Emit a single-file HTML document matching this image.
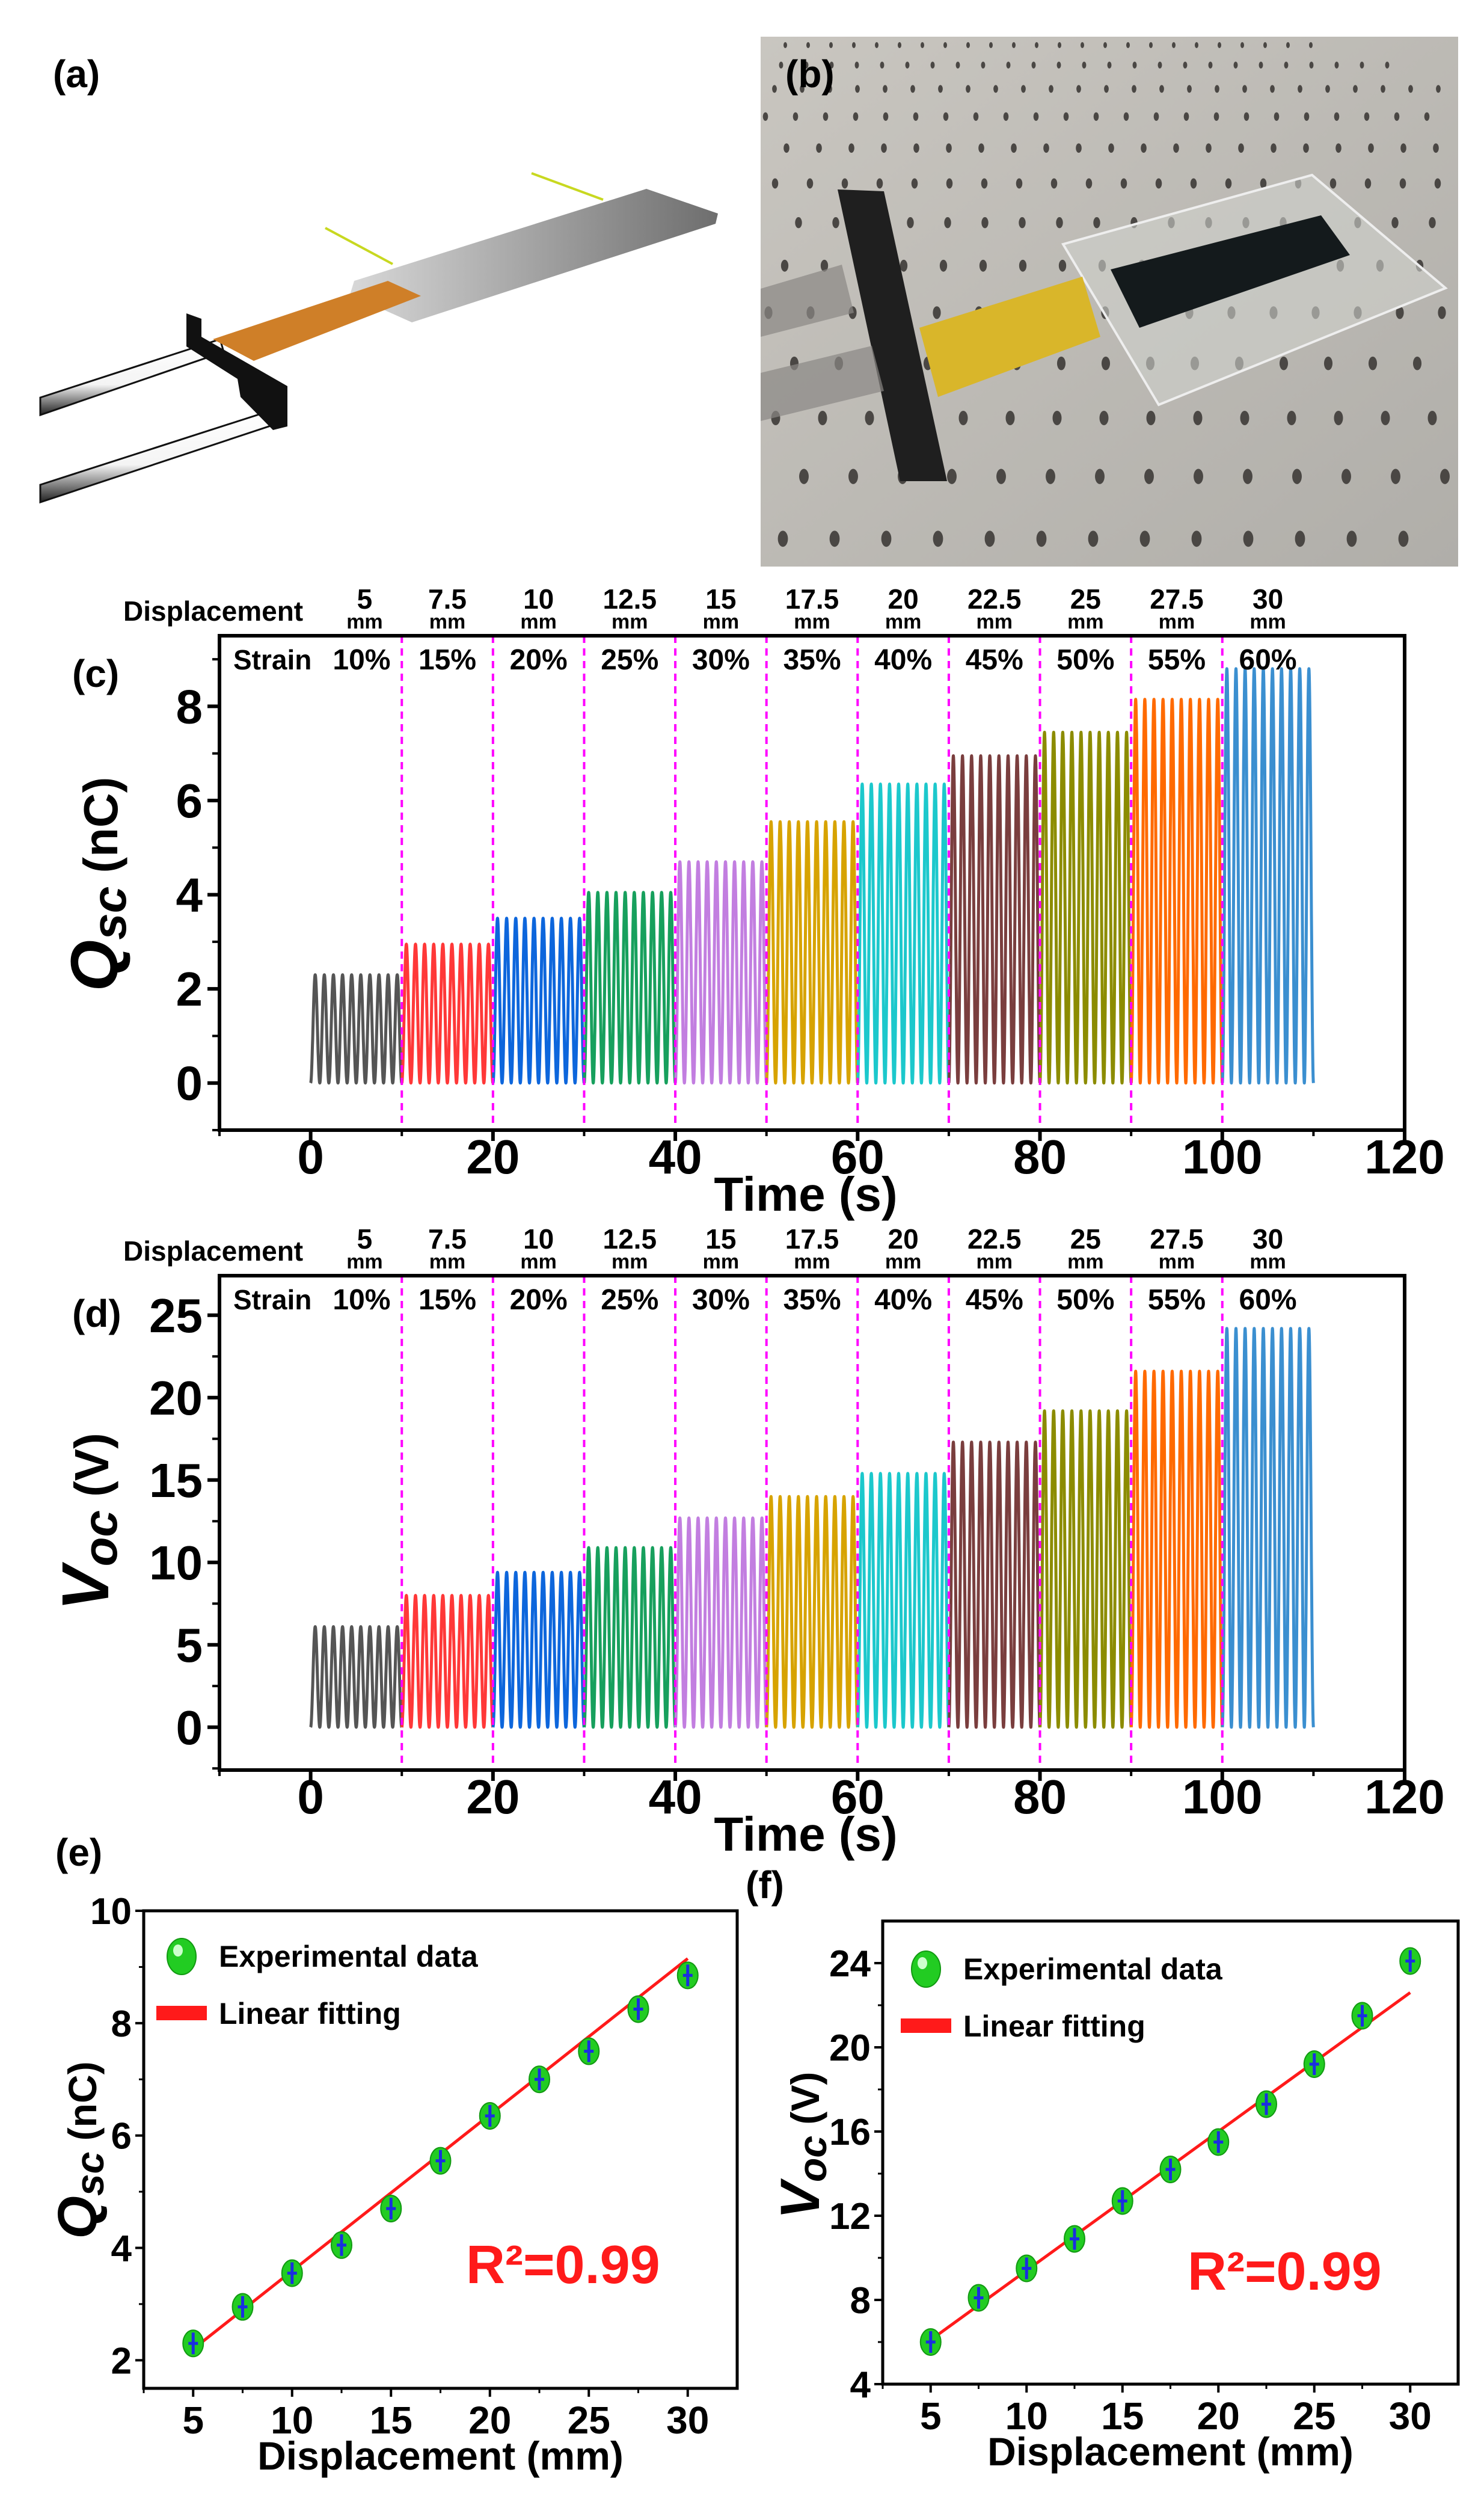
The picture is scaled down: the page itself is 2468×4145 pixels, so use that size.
<!DOCTYPE html>
<html><head><meta charset="utf-8"><style>
html,body{margin:0;padding:0;background:#fff;}
svg{display:block;}
.lab{font-family:"Liberation Sans",sans-serif;font-weight:bold;}
.tk{font-family:"Liberation Sans",sans-serif;font-weight:bold;}
.nar{font-family:"Liberation Sans Narrow","Liberation Sans",sans-serif;font-weight:bold;}
</style></head><body>
<svg id="fig" width="2468" height="4145" viewBox="0 0 2468 4145" xmlns="http://www.w3.org/2000/svg">
<rect width="2468" height="4145" fill="#fff"/>
<g>
<text class="lab" x="88" y="145" font-size="64">(a)</text>
<line x1="541" y1="379" x2="653" y2="439" stroke="#c8d820" stroke-width="4"/>
<line x1="884" y1="288" x2="1003" y2="332" stroke="#c8d820" stroke-width="4"/>
<defs><linearGradient id="pg" x1="0" y1="0" x2="1" y2="0"><stop offset="0" stop-color="#d8d8d8"/><stop offset="1" stop-color="#6e6e6e"/></linearGradient>
<linearGradient id="rod" x1="0" y1="0" x2="0" y2="1"><stop offset="0" stop-color="#fff"/><stop offset="0.6" stop-color="#f4f4f4"/><stop offset="1" stop-color="#222"/></linearGradient>
<linearGradient id="ph" x1="0" y1="0" x2="1" y2="1"><stop offset="0" stop-color="#c9c6c0"/><stop offset="1" stop-color="#b0aea9"/></linearGradient></defs>
<polygon points="589,467 1075,314 1194,355 1190,372 685,536 582,490" fill="url(#pg)"/>
<polygon points="67,661 366,564 372,585 67,690" fill="url(#rod)" stroke="#111" stroke-width="3"/>
<polygon points="67,806 462,679 468,702 67,835" fill="url(#rod)" stroke="#111" stroke-width="3"/>
<polygon points="645,467 700,492 422,600 354,564" fill="#cf7f28"/>
<polygon points="310,521 335,530 335,560 478,642 478,709 454,715 400,660 395,630 310,576" fill="#111"/>
</g>
<g>
<rect x="1265" y="61" width="1160" height="881" fill="url(#ph)"/>
<g id="holes" fill="#4a4744"></g>
<polygon points="1768,406 2182,291 2404,479 1927,673" fill="#cfd0cc" fill-opacity="0.6" stroke="#eee" stroke-width="4"/>
<polygon points="1529,545 1800,460 1830,560 1560,660" fill="#d9b62a"/>
<polygon points="1847,448 2197,358 2245,424 1895,545" fill="#141a1c"/>
<polygon points="1393,315 1470,318 1575,800 1497,800" fill="#1f1f1f"/>
<polygon points="1265,480 1400,440 1420,520 1265,560" fill="#8a8784" opacity="0.7"/>
<polygon points="1265,620 1450,575 1470,650 1265,700" fill="#8a8784" opacity="0.7"/>
<text class="lab" x="1306" y="145" font-size="64">(b)</text>
</g>
<g id="charts"></g>
</svg>
<script>
const NS='http://www.w3.org/2000/svg';
const root=document.getElementById('charts');
function el(tag,attrs,parent,txt){const e=document.createElementNS(NS,tag);for(const k in attrs)e.setAttribute(k,attrs[k]);if(txt!==undefined)e.textContent=txt;(parent||root).appendChild(e);return e;}

const hg=document.getElementById('holes');
for(let r=0;r<14;r++){for(let c=0;c<26;c++){const y=75+r*(30+r*3.2);const sp=38+r*4;const x=1230+c*sp+(r%2)*sp/2+r*6;if(x>1270&&x<2420&&y<935)el('ellipse',{cx:x,cy:y,rx:3+r*0.45,ry:5+r*0.7},hg);}}

// ===== time-series data =====
const segStarts=[0,10,20,30,40,50,60,70,80,90,100];
const qPeaks=[2.3,2.95,3.5,4.05,4.7,5.55,6.35,6.95,7.45,8.15,8.8];
const vPeaks=[6.1,8.0,9.4,10.9,12.7,14.0,15.4,17.3,19.2,21.6,24.2];
const segColors=['#555555','#ff3838','#0d66dc','#17a05d','#c27ee0','#d7a300','#1cc8cc','#7a3e3e','#8c8c00','#ff6a00','#3b8fd0'];
const dispLabels=['5','7.5','10','12.5','15','17.5','20','22.5','25','27.5','30'];
const strainLabels=['10%','15%','20%','25%','30%','35%','40%','45%','50%','55%','60%'];
const xTicks=[0,20,40,60,80,100,120];
const qTicks=[0,2,4,6,8];
const vTicks=[0,5,10,15,20,25];

function tsChart(o){
  const g=el('g',{});
  
  
  const X=t=>o.x0+(t-o.xmin)/(o.xmax-o.xmin)*(o.x1-o.x0);
  const Y=v=>o.y1-(v-o.ymin)/(o.ymax-o.ymin)*(o.y1-o.y0);
  segStarts.forEach((s,i)=>{
    let d='';
    for(let t=0;t<=10.001;t+=0.02){
      const sh=0.5-0.5*Math.cos(2*Math.PI*t);
      const v=o.peaks[i]*sh;
      d+=(t===0?'M':'L')+X(s+t).toFixed(1)+','+Y(v).toFixed(1);
    }
    const p=el('path',{d:d,fill:'none',stroke:segColors[i],'stroke-width':5,'stroke-linejoin':'round'},g);
    
    
  });
  segStarts.slice(1).forEach(s=>{
    const l=el('line',{x1:X(s),x2:X(s),y1:o.y0,y2:o.y1,stroke:'#ff00ff','stroke-width':4,'stroke-dasharray':'12,9'},g);
    
    
  });
  const f=el('rect',{x:o.x0,y:o.y0,width:o.x1-o.x0,height:o.y1-o.y0,fill:'none',stroke:'#000','stroke-width':6},g);
  
  
  xTicks.forEach(t=>{
    el('line',{x1:X(t),x2:X(t),y1:o.y1,y2:o.y1+18,stroke:'#000','stroke-width':6},g);
    const tx=el('text',{x:X(t),y:o.y1+72,'text-anchor':'middle','font-size':80,class:'tk'},g,String(t));
    
    
  });
  for(let t=o.xmin;t<=o.xmax;t+=10){el('line',{x1:X(t),x2:X(t),y1:o.y1,y2:o.y1+10,stroke:'#000','stroke-width':4},g);}
  o.ticks.forEach(v=>{
    el('line',{x1:o.x0-20,x2:o.x0,y1:Y(v),y2:Y(v),stroke:'#000','stroke-width':6},g);
    const tx=el('text',{x:o.x0-28,y:Y(v)+28,'text-anchor':'end','font-size':80,class:'tk'},g,String(v));
    
    
  });
  for(let v=o.ticks[0]-o.minor;v<=o.ymax;v+=o.minor){el('line',{x1:o.x0-12,x2:o.x0,y1:Y(v),y2:Y(v),stroke:'#000','stroke-width':4},g);}
  const xt=el('text',{x:1340,y:o.y1+134,'text-anchor':'middle','font-size':80,class:'tk'},g,'Time (s)');
  
  
  const yt=el('text',{transform:'translate('+o.ytx+','+o.yty+') rotate(-90)','text-anchor':'middle',class:'tk','font-size':80},g);
  
  
  el('tspan',{'font-style':'italic','font-size':110},yt,o.ysym);
  el('tspan',{'font-style':'italic','font-size':80,dy:14},yt,o.ysub);
  el('tspan',{dy:-14},yt,' '+o.yunit);
  const a0=o.y0;
  const dl=el('text',{x:205,y:a0-25,'font-size':46,class:'nar'},g,'Displacement');
  
  
  const sl=el('text',{x:388,y:a0+56,'font-size':46,class:'nar'},g,'Strain');
  
  
  segStarts.forEach((s,i)=>{
    const cx=X(s+5)+(i===0?14:0);
    const n=el('text',{x:cx,y:a0-45,'text-anchor':'middle','font-size':46,class:'nar'},g,dispLabels[i]);
    
    
    el('text',{x:cx,y:a0-12,'text-anchor':'middle','font-size':34,class:'nar'},g,'mm');
    const st=el('text',{x:cx+(i===0?-5:0),y:a0+56,'text-anchor':'middle','font-size':48,class:'nar'},g,strainLabels[i]);
    
    
  });
  const pl=el('text',{x:120,y:o.y0+85,'font-size':64,class:'lab'},g,o.label);
  
  
}
tsChart({name:'chart-c-charge',x0:365,x1:2336,y0:1057,y1:1879,xmin:-10,xmax:120,ymin:-1,ymax:9.5,peaks:qPeaks,ticks:qTicks,minor:1,ysym:'Q',ysub:'sc',yunit:'(nC)',ytx:195,yty:1470,label:'(c)'});
tsChart({name:'chart-d-voltage',x0:365,x1:2336,y0:2121,y1:2943,xmin:-10,xmax:120,ymin:-2.6,ymax:27.4,peaks:vPeaks,ticks:vTicks,minor:2.5,ysym:'V',ysub:'oc',yunit:'(V)',ytx:180,yty:2530,label:'(d)'});

// ===== scatter data =====
const dispX=[5,7.5,10,12.5,15,17.5,20,22.5,25,27.5,30];
const qExp=[2.3,2.95,3.55,4.05,4.7,5.55,6.35,7.0,7.5,8.25,8.85];
const vExp=[6.0,8.1,9.5,10.9,12.7,14.2,15.5,17.3,19.2,21.5,24.1];
const qFit=[2.2,9.15];
const vFit=[6.1,22.6];
const dispTicks=[5,10,15,20,25,30];
const qYTicks=[2,4,6,8,10];
const vYTicks=[4,8,12,16,20,24];

function scChart(o){
  const g=el('g',{});
  
  
  const X=t=>o.x0+(t-2.5)/30*(o.x1-o.x0);
  const Y=v=>o.y1-(v-o.ymin)/(o.ymax-o.ymin)*(o.y1-o.y0);
  const f=el('rect',{x:o.x0,y:o.y0,width:o.x1-o.x0,height:o.y1-o.y0,fill:'none',stroke:'#000','stroke-width':5},g);
  
  
  dispTicks.forEach(t=>{
    el('line',{x1:X(t),x2:X(t),y1:o.y1,y2:o.y1+14,stroke:'#000','stroke-width':4},g);
    el('line',{x1:X(t-2.5),x2:X(t-2.5),y1:o.y1,y2:o.y1+8,stroke:'#000','stroke-width':3},g);
    const tx=el('text',{x:X(t),y:o.y1+75,'text-anchor':'middle','font-size':64,class:'nar'},g,String(t));
    
    
  });
  o.ticks.forEach((v,i)=>{
    el('line',{x1:o.x0-14,x2:o.x0,y1:Y(v),y2:Y(v),stroke:'#000','stroke-width':4},g);
    if(i>0){const m=(v+o.ticks[i-1])/2;el('line',{x1:o.x0-8,x2:o.x0,y1:Y(m),y2:Y(m),stroke:'#000','stroke-width':3},g);}
    const tx=el('text',{x:o.x0-20,y:Y(v)+22,'text-anchor':'end','font-size':62,class:'nar'},g,String(v));
    
    
  });
  const fl=el('line',{x1:X(5),y1:Y(o.fit[0]),x2:X(30),y2:Y(o.fit[1]),stroke:'#ff1a1a','stroke-width':5},g);
  
  
  o.data.forEach((v,i)=>{
    const cx=X(dispX[i]),cy=Y(v);
    const m=el('ellipse',{cx:cx,cy:cy,rx:17,ry:22,fill:'#22cc22',stroke:'#119911','stroke-width':2},g);
    
    
    el('line',{x1:cx,x2:cx,y1:cy-18,y2:cy+18,stroke:'#1a2ee0','stroke-width':5},g);
    el('line',{x1:cx-8,x2:cx+8,y1:cy,y2:cy,stroke:'#1a2ee0','stroke-width':5},g);
  });
  const lg=el('g',{},g);
  
  
  el('ellipse',{cx:o.lx,cy:o.ly,rx:24,ry:30,fill:'#22cc22',stroke:'#119911','stroke-width':2},lg);
  el('ellipse',{cx:o.lx-6,cy:o.ly-10,rx:8,ry:10,fill:'#ccffcc'},lg);
  el('text',{x:o.lx+62,y:o.ly+17,'font-size':50,class:'nar'},lg,'Experimental data');
  el('rect',{x:o.lx-42,y:o.ly+82,width:84,height:24,fill:'#ff1a1a'},lg);
  el('text',{x:o.lx+62,y:o.ly+112,'font-size':50,class:'nar'},lg,'Linear fitting');
  const r=el('text',{x:o.rx,y:o.ry,'font-size':90,class:'nar',fill:'#ff1a1a'},g,'R²=0.99');
  
  
  const xt=el('text',{x:(o.x0+o.x1)/2,y:o.y1+135,'text-anchor':'middle','font-size':66,class:'nar'},g,'Displacement (mm)');
  
  
  const yt=el('text',{transform:'translate('+o.ytx+','+o.yty+') rotate(-90)','text-anchor':'middle',class:'tk','font-size':66},g);
  
  
  el('tspan',{'font-style':'italic','font-size':92},yt,o.ysym);
  el('tspan',{'font-style':'italic','font-size':66,dy:12},yt,o.ysub);
  el('tspan',{dy:-12},yt,' '+o.yunit);
  const pl=el('text',{x:o.plx,y:o.ply,'font-size':64,class:'lab'},g,o.label);
  
  
}
scChart({name:'chart-e-charge-fit',x0:239,x1:1226,y0:3177,y1:3971,ymin:1.5,ymax:10,ticks:qYTicks,data:qExp,fit:qFit,lx:302,ly:3253,rx:775,ry:3796,ysym:'Q',ysub:'sc',yunit:'(nC)',ytx:160,yty:3575,label:'(e)',plx:92,ply:3102});
scChart({name:'chart-f-voltage-fit',x0:1468,x1:2425,y0:3194,y1:3964,ymin:4,ymax:26,ticks:vYTicks,data:vExp,fit:vFit,lx:1540,ly:3274,rx:1975,ry:3807,ysym:'V',ysub:'oc',yunit:'(V)',ytx:1362,yty:3567,label:'(f)',plx:1240,ply:3156});
</script>
</body></html>
